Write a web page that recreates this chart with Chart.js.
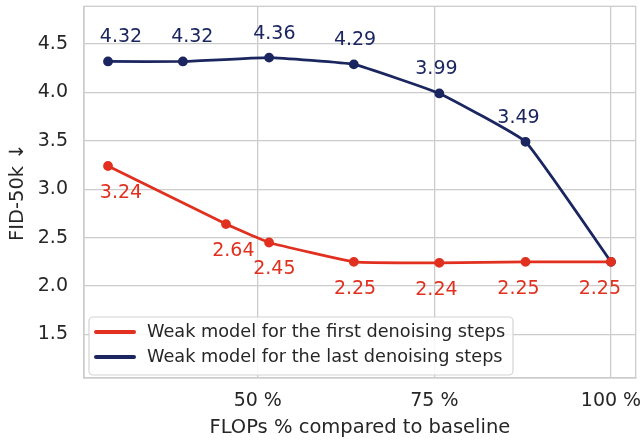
<!DOCTYPE html>
<html>
<head>
<meta charset="utf-8">
<script src="https://cdn.jsdelivr.net/npm/chart.js@4.4.1/dist/chart.umd.min.js"></script>
<style>
  html, body { margin: 0; padding: 0; background: #fff; }
</style>
</head>
<body>
<canvas id="fidChart" width="642" height="442"></canvas>
<script>
// FLOPs (% of baseline) and FID-50k values
const flopsFirst = [28.8, 45.5, 51.6, 63.6, 75.7, 87.9, 100];
const fidFirst = [3.24, 2.64, 2.45, 2.25, 2.24, 2.25, 2.25];
const flopsLast = [28.8, 39.4, 51.6, 63.6, 75.7, 87.9, 100];
const fidLast = [4.32, 4.32, 4.36, 4.29, 3.99, 3.49, 2.25];

const xTicks = [50, 75, 100];
const yTicks = [1.5, 2.0, 2.5, 3.0, 3.5, 4.0, 4.5];

const RED = '#e1301f';
const NAVY = '#1b2660';
const GRID = '#cccccc';
const TEXT = '#262626';
const FONT = 'DejaVu Sans';

const toPoints = (xs, ys) => xs.map((x, i) => ({ x: x, y: ys[i] }));

// no extra padding from edge tick labels
const noEdgePad = s => {
    s.paddingTop = 0; s.paddingBottom = 0;
    s.paddingLeft = 0; s.paddingRight = 0;
};

// plot frame (top / right edges too)
const framePlugin = {
    id: 'frame',
    beforeDatasetsDraw(chart) {
        const { ctx, chartArea: a } = chart;
        ctx.save();
        ctx.strokeStyle = GRID;
        ctx.lineWidth = 1.3;
        ctx.strokeRect(a.left, a.top, a.right - a.left, a.bottom - a.top);
        ctx.restore();
    }
};

// value labels next to each point
const valueLabels = {
    id: 'valueLabels',
    afterDatasetsDraw(chart) {
        const ctx = chart.ctx;
        ctx.save();
        ctx.font = '19px "' + FONT + '"';
        ctx.textAlign = 'center';
        ctx.textBaseline = 'middle';
        chart.data.datasets.forEach((ds, di) => {
            const meta = chart.getDatasetMeta(di);
            ctx.fillStyle = ds.borderColor;
            meta.data.forEach((pt, i) => {
                if (ds.hideLabels.includes(i)) return;
                const shift = 13 - 0.048 * (pt.x - 108);
                const dy = ds.labelAbove ? -24 : 27;
                ctx.fillText(ds.data[i].y.toFixed(2), pt.x + shift, pt.y + dy);
            });
        });
        ctx.restore();
    }
};

// boxed legend in lower-left of plot
const boxLegend = {
    id: 'boxLegend',
    afterDraw(chart) {
        const { ctx, chartArea: a } = chart;
        const x = a.left + 5, y = a.bottom - 61, w = 424, h = 58;
        ctx.save();
        ctx.fillStyle = 'rgba(255,255,255,0.85)';
        ctx.strokeStyle = '#d4d4d4';
        ctx.lineWidth = 1.2;
        ctx.beginPath();
        ctx.roundRect(x, y, w, h, 4);
        ctx.fill();
        ctx.stroke();
        ctx.font = '17.7px "' + FONT + '"';
        ctx.textBaseline = 'middle';
        chart.data.datasets.forEach((ds, i) => {
            const cy = y + 15 + i * 25;
            ctx.strokeStyle = ds.borderColor;
            ctx.lineWidth = 4;
            ctx.lineCap = 'round';
            ctx.beginPath();
            ctx.moveTo(x + 7, cy);
            ctx.lineTo(x + 45, cy);
            ctx.stroke();
            ctx.fillStyle = TEXT;
            ctx.fillText(ds.label, x + 58, cy);
        });
        ctx.restore();
    }
};

new Chart(document.getElementById('fidChart').getContext('2d'), {
    type: 'line',
    data: {
        datasets: [{
            label: 'Weak model for the first denoising steps',
            data: toPoints(flopsFirst, fidFirst),
            borderColor: RED,
            backgroundColor: RED,
            borderWidth: 2.8,
            pointRadius: 3.5,
            pointHoverRadius: 3.5,
            tension: 0.1,
            labelAbove: false,
            hideLabels: []
        }, {
            label: 'Weak model for the last denoising steps',
            data: toPoints(flopsLast, fidLast),
            borderColor: NAVY,
            backgroundColor: NAVY,
            borderWidth: 2.8,
            pointRadius: 3.5,
            pointHoverRadius: 3.5,
            tension: 0.1,
            labelAbove: true,
            hideLabels: [6]
        }]
    },
    options: {
        responsive: false,
        animation: false,
        devicePixelRatio: 1,
        layout: { padding: { top: 5, right: 5, left: 0, bottom: 0 } },
        plugins: { legend: { display: false }, tooltip: { enabled: false } },
        scales: {
            x: {
                type: 'linear',
                min: 25.4,
                max: 103.5,
                afterBuildTicks: s => { s.ticks = xTicks.map(v => ({ value: v })); },
                afterFit: s => { s.height = 64; noEdgePad(s); },
                ticks: { callback: v => v + ' %', color: TEXT, font: { family: FONT, size: 19 }, padding: 12, maxRotation: 0 },
                grid: { color: GRID, lineWidth: 1.3, drawTicks: false },
                border: { color: GRID, width: 1.3 },
                title: { display: true, text: 'FLOPs % compared to baseline', color: TEXT, font: { family: FONT, size: 19.5 }, padding: { top: 0, bottom: 2 } }
            },
            y: {
                min: 1.05,
                max: 4.89,
                afterBuildTicks: s => { s.ticks = yTicks.map(v => ({ value: v })); },
                afterFit: s => { s.width = 84; noEdgePad(s); },
                ticks: { callback: v => v.toFixed(1), color: TEXT, font: { family: FONT, size: 19 }, padding: 16 },
                grid: { color: GRID, lineWidth: 1.3, drawTicks: false },
                border: { color: GRID, width: 1.3 },
                title: { display: true, text: 'FID-50k ↓', color: TEXT, font: { family: FONT, size: 19.5 }, padding: { top: 6, bottom: 0 } }
            }
        }
    },
    plugins: [framePlugin, valueLabels, boxLegend]
});
</script>
</body>
</html>
